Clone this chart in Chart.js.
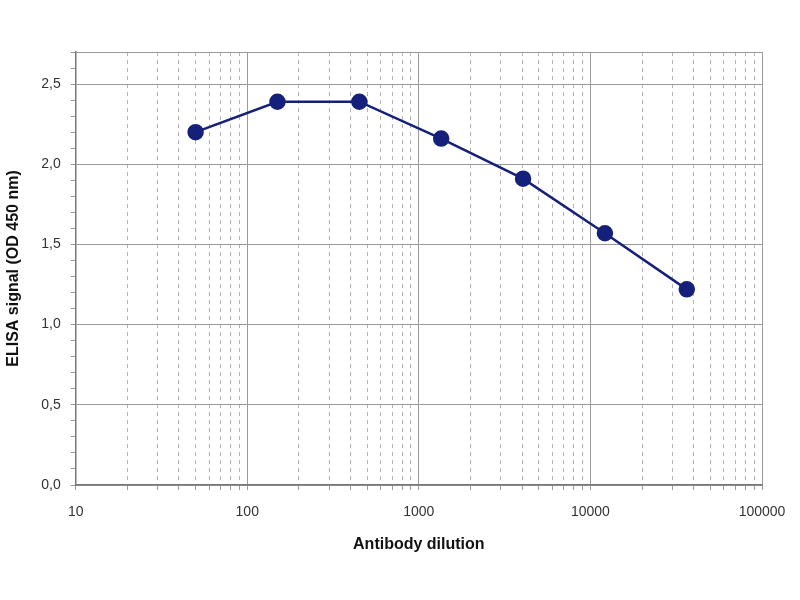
<!DOCTYPE html>
<html>
<head>
<meta charset="utf-8">
<script src="https://cdn.jsdelivr.net/npm/chart.js@4/dist/chart.umd.min.js"></script>
<style>
  html, body { margin: 0; padding: 0; background: #fff; }
  #wrap { width: 800px; height: 600px; }
</style>
</head>
<body>
<div id="wrap"><canvas id="elisa"></canvas></div>
<script>
////// data //////
const dilutions = [50, 150, 450, 1350, 4050, 12150, 36450];
const signal = [2.20, 2.39, 2.39, 2.16, 1.91, 1.57, 1.22];
const decades = [10, 100, 1000, 10000, 100000];
const yLabels = [0, 0.5, 1.0, 1.5, 2.0, 2.5];

const navy = '#15207a';

// ticks at 1..9 of every decade
function decadeTicks() {
    const t = [];
    for (let i = 0; i < decades.length - 1; i++) {
        for (let k = 1; k <= 9; k++) t.push({ value: decades[i] * k });
    }
    t.push({ value: decades[decades.length - 1] });
    return t;
}

function isDecade(v) {
    return decades.some(d => Math.abs(d - v) < 1e-6);
}
function isHalf(v) {
    return Math.round(v * 10) % 5 === 0 || Math.abs(v - 2.7) < 1e-6;
}

const config = {
    type: 'line',
    data: {
        datasets: [{
            data: dilutions.map((d, i) => ({ x: d, y: signal[i] })),
            borderColor: navy,
            backgroundColor: navy,
            borderWidth: 2.5,
            pointRadius: 7,
            pointHoverRadius: 7,
            pointBackgroundColor: navy,
            pointBorderColor: navy,
            tension: 0
        }]
    },
    options: {
        responsive: true,
        maintainAspectRatio: false,
        animation: false,
        layout: { padding: { left: 0, right: 38, top: 52, bottom: 42 } },
        plugins: { legend: { display: false }, tooltip: { enabled: false } },
        scales: {
            x: {
                type: 'logarithmic',
                min: 10,
                max: 100000,
                afterBuildTicks: (scale) => { scale.ticks = decadeTicks(); },
                ticks: {
                    autoSkip: false,
                    maxRotation: 0,
                    color: '#333',
                    padding: 14,
                    font: { family: 'Liberation Sans', size: 14 },
                    callback: (v) => isDecade(v) ? String(v) : ''
                },
                grid: {
                    color: (ctx) => ctx.tick && isDecade(ctx.tick.value) ? '#9a9a9a' : '#b4b4b4',
                    tickColor: '#9a9a9a',
                    lineWidth: 1,
                    tickLength: 5
                },
                border: {
                    color: '#777',
                    width: 1.5,
                    dash: (ctx) => (ctx.tick && !isDecade(ctx.tick.value)) ? [4, 4] : []
                },
                title: {
                    display: true,
                    text: 'Antibody dilution',
                    color: '#111',
                    font: { family: 'Liberation Sans', size: 16, weight: 'bold' },
                    padding: { top: 0 }
                }
            },
            y: {
                min: 0,
                max: 2.7,
                ticks: {
                    stepSize: 0.1,
                    autoSkip: false,
                    maxTicksLimit: 100,
                    color: '#333',
                    padding: 10,
                    font: { family: 'Liberation Sans', size: 14 },
                    callback: (v) => yLabels.some(l => Math.abs(l - v) < 1e-6) ? v.toFixed(1).replace('.', ',') : ''
                },
                grid: {
                    color: (ctx) => ctx.tick && isHalf(ctx.tick.value) ? '#9a9a9a' : 'rgba(0,0,0,0)',
                    tickColor: '#9a9a9a',
                    lineWidth: 1,
                    tickLength: 5
                },
                border: { color: '#777', width: 1.5 },
                title: {
                    display: true,
                    text: 'ELISA signal (OD 450 nm)',
                    color: '#111',
                    font: { family: 'Liberation Sans', size: 16, weight: 'bold' },
                    padding: { bottom: 8 }
                }
            }
        }
    }
};

var elisaChart = new Chart(document.getElementById('elisa'), config);
</script>
</body>
</html>
